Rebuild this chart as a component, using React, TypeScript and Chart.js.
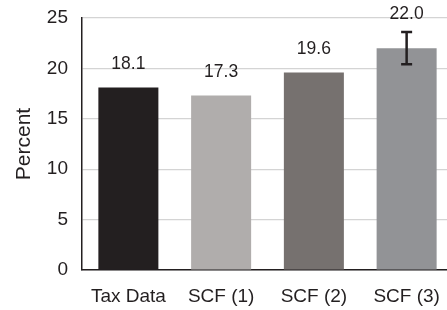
import React, { useEffect, useRef } from "react";
import { Chart, registerables } from "chart.js";

Chart.register(...registerables);

const categories = ["Tax Data", "SCF (1)", "SCF (2)", "SCF (3)"];
const values = [18.1, 17.3, 19.6, 22.0];
const labels = ["18.1", "17.3", "19.6", "22.0"];
const errLow = [null, null, null, 20.4];
const errHigh = [null, null, null, 23.6];
const colors = ["#231f20", "#b0adac", "#76716f", "#929396"];
const yTicks = [0, 5, 10, 15, 20, 25];

const FONT = "'Liberation Sans', Arial, Helvetica, sans-serif";

const overlay = {
  id: "overlay",
  afterDatasetsDraw(chart: any) {
    const ctx = chart.ctx;
    const y = chart.scales.y;
    const meta = chart.getDatasetMeta(0);
    ctx.save();
    meta.data.forEach((bar: any, i: number) => {
      const x = bar.x;
      let ly = bar.y - 23;
      const lo = errLow[i];
      const hi = errHigh[i];
      if (lo != null && hi != null) {
        const yl = y.getPixelForValue(lo);
        const yh = y.getPixelForValue(hi);
        ctx.strokeStyle = "#231f20";
        ctx.lineWidth = 2.5;
        ctx.beginPath();
        ctx.moveTo(x, yl);
        ctx.lineTo(x, yh);
        ctx.moveTo(x - 5.5, yl);
        ctx.lineTo(x + 5.5, yl);
        ctx.moveTo(x - 5.5, yh);
        ctx.lineTo(x + 5.5, yh);
        ctx.stroke();
        ly = yh - 18;
      }
      ctx.fillStyle = "#231f20";
      ctx.font = `17.5px ${FONT}`;
      ctx.textAlign = "center";
      ctx.textBaseline = "middle";
      ctx.fillText(labels[i], x, ly);
    });
    ctx.restore();
  },
};

export default function App() {
  const ref = useRef<HTMLCanvasElement>(null);
  useEffect(() => {
    document.body.style.margin = "0";
    const chart = new Chart(ref.current!, {
      type: "bar",
      data: {
        labels: categories,
        datasets: [
          {
            data: values,
            backgroundColor: colors,
            borderWidth: 0,
            barPercentage: 0.647,
            categoryPercentage: 1,
          },
        ],
      },
      options: {
        animation: false,
        responsive: false,
        layout: { padding: { top: 18, right: 0, left: 0, bottom: 0 } },
        plugins: { legend: { display: false }, tooltip: { enabled: false } },
        scales: {
          x: {
            grid: { display: false },
            border: { display: true, color: "#231f20", width: 1.5 },
            ticks: { color: "#231f20", font: { family: FONT, size: 19 }, padding: 7 },
            afterFit(s: any) {
              s.height = 40;
              s.paddingLeft = 0;
              s.paddingRight = 0;
            },
          },
          y: {
            min: 0,
            max: 25,
            afterBuildTicks(s: any) {
              s.ticks = yTicks.map((v) => ({ value: v }));
            },
            grid: { color: "#d4d4d4", lineWidth: 1.2, drawTicks: false },
            border: { display: true, color: "#231f20", width: 1.5 },
            ticks: { color: "#231f20", font: { family: FONT, size: 19 }, padding: 14 },
            title: {
              display: true,
              text: "Percent",
              color: "#231f20",
              font: { family: FONT, size: 21 },
              padding: { top: 12, bottom: 0 },
            },
            afterFit(s: any) {
              s.width = 82;
              s.paddingTop = 0;
              s.paddingBottom = 0;
            },
          },
        },
      },
      plugins: [overlay],
    });
    return () => chart.destroy();
  }, []);
  return (
    <div style={{ width: 447, height: 310, overflow: "hidden", position: "relative", background: "#fff" }}>
      <canvas ref={ref} width={453} height={310} style={{ display: "block" }} />
    </div>
  );
}
